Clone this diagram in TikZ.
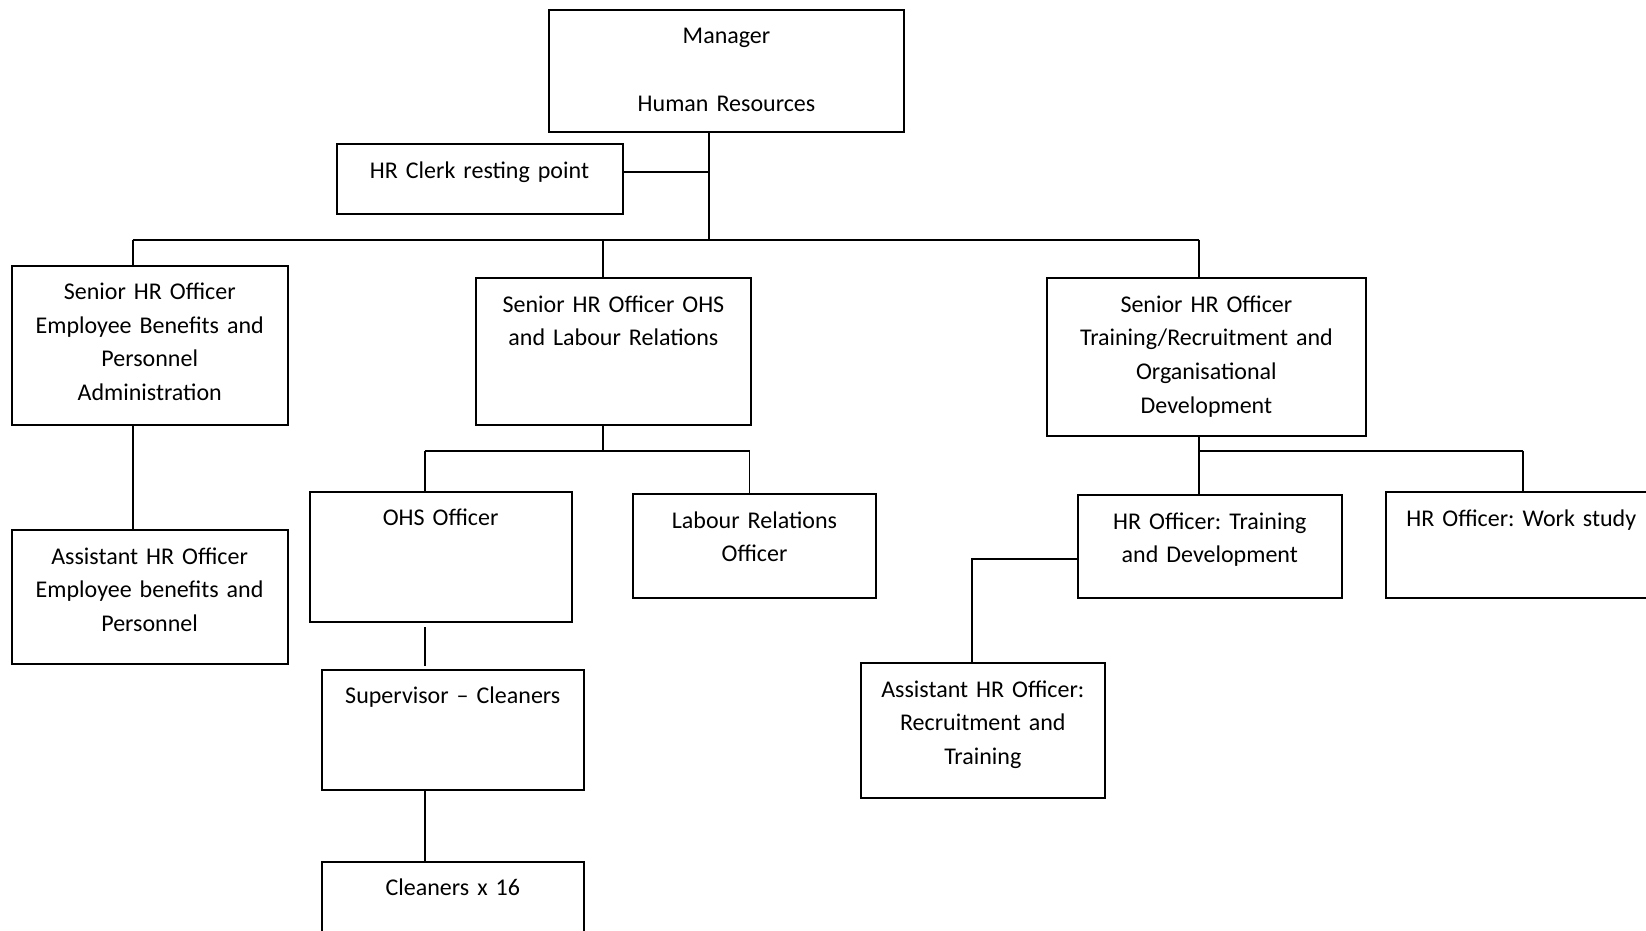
\documentclass[tikz,border=0pt]{standalone}
\usepackage{fontspec}
\setmainfont{Carlito}
\usepackage{tikz}
\frenchspacing
\tikzstyle{orgbox} = [draw=black, line width=2pt, rectangle, anchor=north west,
    inner sep=0pt, align=center, text height=34pt, font=\fontsize{24}{33.6}\selectfont]
\tikzstyle{orgline} = [draw=black, line width=1.8pt]

\begin{document}
\begin{tikzpicture}[x=1pt, y=-1pt]
                \useasboundingbox (0,0) rectangle (1646,931);
                \node [orgbox, text width=355pt, text depth=87.7pt] (manager) at (548,9) {Manager\\[34pt]Human Resources};
                \node [orgbox, text width=286pt, text depth=36pt] (clerk) at (335.5,143) {HR Clerk resting point};
                \node [orgbox, text width=276.5pt, text depth=125.4pt] (seniorEB) at (10.5,264.6) {Senior HR Officer\\Employee Benefits and\\Personnel\\Administration};
                \node [orgbox, text width=275.2pt, text depth=113pt] (seniorOHS) at (474.8,277) {Senior HR Officer OHS\\and Labour Relations};
                \node [orgbox, text width=318.8pt, text depth=123.7pt] (seniorTR) at (1046,277.3) {Senior HR Officer\\Training/Recruitment and\\Organisational\\Development};
                \node [orgbox, text width=276pt, text depth=99.7pt] (assistEB) at (10.6,529) {Assistant HR Officer\\Employee benefits and\\Personnel};
                \node [orgbox, text width=262pt, text depth=96.3pt] (ohs) at (308.6,490.7) {OHS Officer};
                \node [orgbox, text width=243pt, text depth=69.4pt] (labour) at (632,493.3) {Labour Relations\\Officer};
                \node [orgbox, text width=264.4pt, text depth=68.7pt] (trainDev) at (1076.6,494) {HR Officer: Training\\and Development};
                \node [orgbox, text width=271pt, text depth=71.7pt] (workStudy) at (1384.8,491) {HR Officer: Work study};
                \node [orgbox, text width=262.2pt, text depth=86.3pt] (supervisor) at (320.7,668.7) {Supervisor – Cleaners};
                \node [orgbox, text width=262.2pt, text depth=86.3pt] (cleaners) at (320.7,860.7) {Cleaners x 16};
                \node [orgbox, text width=243.6pt, text depth=100.4pt] (assistRT) at (860,662.3) {Assistant HR Officer:\\Recruitment and\\Training};

                \coordinate (trunk) at (709,239.7);
                \coordinate (busL) at (132.6,239.7);
                \coordinate (busM) at (602.7,239.7);
                \coordinate (busR) at (1198.8,239.7);
                \coordinate (ohsL) at (425,450.7);
                \coordinate (ohsR) at (749.5,450.7);
                \coordinate (trL) at (1198.8,450.7);
                \coordinate (trR) at (1522.8,450.7);
                \coordinate (rtTurn) at (971.7,558.7);

                \draw [orgline] (manager.south -| trunk) -- (trunk);
                \draw [orgline] ([yshift=6.7pt]clerk.east) -- ([yshift=6.7pt]clerk.east -| trunk);
                \draw [orgline] (busL) -- (busR);
                \draw [orgline] (busL) -- (busL |- seniorEB.north);
                \draw [orgline] (busM) -- (busM |- seniorOHS.north);
                \draw [orgline] (busR) -- (busR |- seniorTR.north);
                \draw [orgline] (seniorEB.south -| busL) -- (assistEB.north -| busL);
                \draw [orgline] (seniorOHS.south -| busM) -- (busM |- ohsL);
                \draw [orgline] (ohsL) -- (ohsR);
                \draw [orgline] (ohsL) -- (ohsL |- ohs.north);
                \draw [orgline] (ohsR) -- (ohsR |- labour.north);
                \draw [orgline, shorten <=4pt, shorten >=3pt] (ohs.south -| ohsL) -- (supervisor.north -| ohsL);
                \draw [orgline] (supervisor.south -| ohsL) -- (cleaners.north -| ohsL);
                \draw [orgline] (seniorTR.south -| trL) -- (trL);
                \draw [orgline] (trL) -- (trR);
                \draw [orgline] (trL) -- (trL |- trainDev.north);
                \draw [orgline] (trR) -- (trR |- workStudy.north);
                \draw [orgline] (trainDev.west |- rtTurn) -- (rtTurn) -- (rtTurn |- assistRT.north);
            \end{tikzpicture}
\end{document}
